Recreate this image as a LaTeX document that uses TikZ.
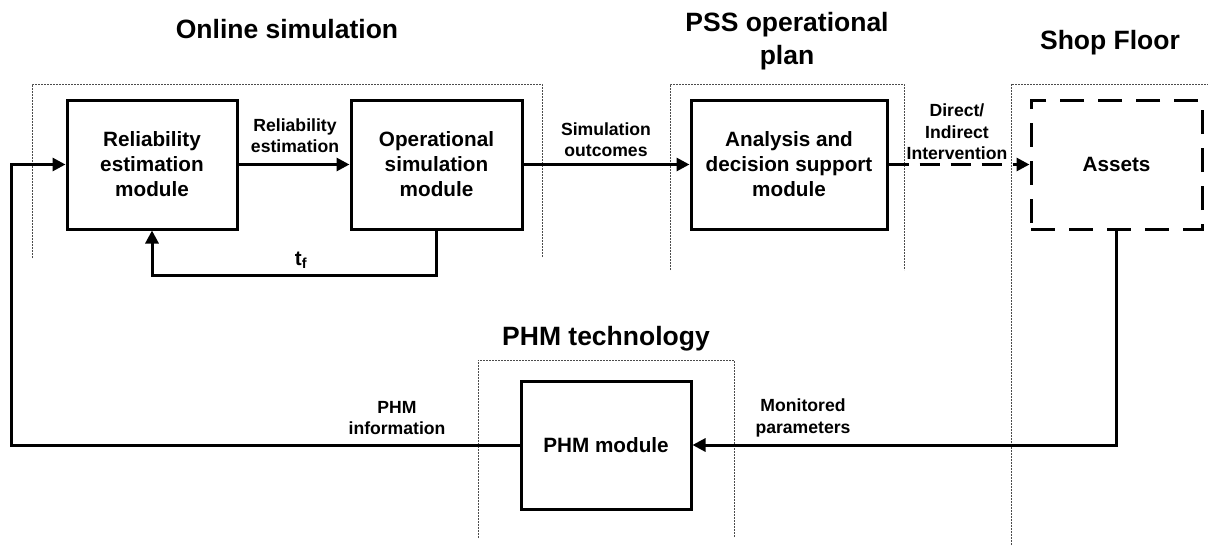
\documentclass[tikz,border=0pt]{standalone}
\usepackage{fontspec}
\setmainfont{Liberation Sans}
\usetikzlibrary{arrows.meta}
\tikzset{
  modbox/.style={draw, line width=3pt, rectangle, inner sep=0pt, align=center,
    font=\fontsize{20.7}{25}\selectfont\bfseries},
  dashbox/.style={modbox, dash pattern=on 24pt off 14pt},
  arr/.style={line width=3pt, -{Triangle[length=13pt,width=13pt]}},
  plain/.style={line width=3pt},
  frame/.style={draw=black!70, line width=0.9pt, dash pattern=on 2pt off 1pt},
  lbl/.style={align=center, inner sep=0pt, font=\fontsize{17.6}{21.3}\selectfont\bfseries},
  ttl/.style={align=center, inner sep=0pt, font=\fontsize{26.5}{33}\selectfont\bfseries}
}
\begin{document}
\begin{tikzpicture}[x=1pt,y=-1pt]
\useasboundingbox (0,0) rectangle (1208,546);
% frames
\draw[frame] (32,258) -- (32,84) -- (542,84) -- (542,257);
\draw[frame] (670,270) -- (670,84) -- (904,84) -- (904,270);
\draw[frame] (1011,545) -- (1011,84) -- (1208,84);
\draw[frame] (478,538) -- (478,360) -- (734,360) -- (734,537);
% titles
\node[ttl] (t1) at (287,29) {Online simulation};
\node[ttl] (t2) at (787,41) {PSS operational\\plan};
\node[ttl] (t3) at (1110,43) {Shop Floor};
\node[ttl] (t4) at (606,339) {PHM technology};
% modules
\node[modbox, minimum width=170pt, minimum height=129pt] (rel) at (152,164.5) {Reliability\\estimation\\module};
\node[modbox, minimum width=171pt, minimum height=129pt] (ops) at (436.5,164.5) {Operational\\simulation\\module};
\node[modbox, minimum width=196pt, minimum height=129pt] (ana) at (789,164.5) {Analysis and\\decision support\\module};
\node[dashbox, minimum width=171pt, minimum height=129pt] (ast) at (1116.5,164.5) {Assets};
\node[modbox, minimum width=170pt, minimum height=128pt] (phm) at (606,445) {PHM module};
\coordinate (lft) at (11,300);
% connectors
\draw[arr] (rel.east) -- (ops.west);
\draw[arr] (ops.east) -- (ana.west);
\draw[arr, dash pattern=on 20pt off 11pt] (ana.east) -- (ast.west);
\draw[arr] (ops.south) -- (ops.south |- 0,275) -| (rel.south);
\draw[arr] (ast.south) |- (phm.east);
\draw[arr] (phm.west) -- (phm.west -| lft) |- (rel.west);
% labels
\node[lbl] (l1) at (295,136) {Reliability\\estimation};
\node[lbl] (l2) at (606,140) {Simulation\\outcomes};
\node[lbl] (l3) at (957,132) {Direct/\\Indirect\\Intervention};
\node[lbl, font=\fontsize{20.7}{25}\selectfont\bfseries] (l4) at (301,260) {t\textsubscript{f}};
\node[lbl] (l5) at (397,418) {PHM\\information};
\node[lbl] (l6) at (803,418) {Monitored\\parameters};
\end{tikzpicture}
\end{document}
